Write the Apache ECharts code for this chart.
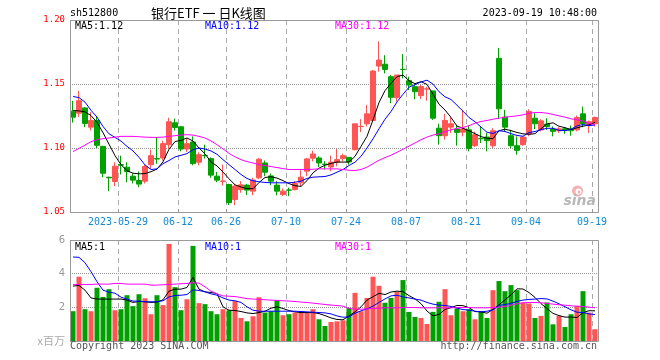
<!DOCTYPE html>
<html><head><meta charset="utf-8">
<script src="https://cdn.jsdelivr.net/npm/echarts@6/dist/echarts.min.js"></script>
<style>html,body{margin:0;padding:0;background:#fff}#c{width:660px;height:360px}</style>
</head><body><div id="c"></div>
<script>
const dates = ['2023-05-17','2023-05-18','2023-05-19','2023-05-22','2023-05-23','2023-05-24','2023-05-25','2023-05-26','2023-05-29','2023-05-30','2023-05-31',
'2023-06-01','2023-06-02','2023-06-05','2023-06-06','2023-06-07','2023-06-08','2023-06-09','2023-06-12','2023-06-13','2023-06-14','2023-06-15','2023-06-16','2023-06-19','2023-06-20','2023-06-21','2023-06-26','2023-06-27','2023-06-28','2023-06-29','2023-06-30',
'2023-07-03','2023-07-04','2023-07-05','2023-07-06','2023-07-07','2023-07-10','2023-07-11','2023-07-12','2023-07-13','2023-07-14','2023-07-17','2023-07-18','2023-07-19','2023-07-20','2023-07-21','2023-07-24','2023-07-25','2023-07-26','2023-07-27','2023-07-28','2023-07-31',
'2023-08-01','2023-08-02','2023-08-03','2023-08-04','2023-08-07','2023-08-08','2023-08-09','2023-08-10','2023-08-11','2023-08-14','2023-08-15','2023-08-16','2023-08-17','2023-08-18','2023-08-21','2023-08-22','2023-08-23','2023-08-24','2023-08-25','2023-08-28','2023-08-29','2023-08-30','2023-08-31',
'2023-09-01','2023-09-04','2023-09-05','2023-09-06','2023-09-07','2023-09-08','2023-09-11','2023-09-12','2023-09-13','2023-09-14','2023-09-15','2023-09-18','2023-09-19'];

const tickIdx = [8,18,26,36,46,56,66,76,87];
const tickLabels = ['2023-05-29','06-12','06-26','07-10','07-24','08-07','08-21','09-04','09-19'];
const priceTicks = ['1.20','1.15','1.10','1.05'];
const volTicks = ['6','4','2'];

const openP = [1.1288,1.1272,1.1313,1.1163,1.1215,1.1013,1.0772,1.0738,1.0870,1.0850,1.0780,
1.0746,1.0741,1.0870,1.0917,1.0922,1.1026,1.1197,1.1166,1.0992,1.1047,1.0889,1.0942,1.0917,1.0780,1.0739,1.0715,1.0598,1.0676,1.0710,1.0663,
1.0767,1.0883,1.0782,1.0710,1.0637,1.0672,1.0676,1.0728,1.0819,1.0920,1.0922,1.0874,1.0852,1.0889,1.0917,1.0927,1.0987,1.1167,1.1189,1.1215,1.1640,
1.1655,1.1557,1.1394,1.1615,1.1526,1.1479,1.1409,1.1460,1.1446,1.1155,1.1096,1.1163,1.1148,1.1124,1.1142,1.1018,1.1074,1.1086,1.1018,1.1700,1.1241,1.1096,1.1018,
1.1026,1.1109,1.1233,1.1142,1.1187,1.1148,1.1135,1.1150,1.1148,1.1142,1.1267,1.1181,1.1189];
const closeP = [1.1241,1.1370,1.1192,1.1215,1.1021,1.0803,1.0767,1.0858,1.0866,1.0816,1.0749,
1.0718,1.0855,1.0940,1.0914,1.1034,1.1205,1.1161,1.0992,1.1034,1.0878,1.0948,1.0940,1.0788,1.0749,1.0742,1.0573,1.0702,1.0712,1.0671,1.0749,
1.0912,1.0811,1.0741,1.0663,1.0663,1.0670,1.0723,1.0772,1.0915,1.0953,1.0883,1.0872,1.0889,1.0909,1.0940,1.0891,1.1189,1.1169,1.1267,1.1601,1.1687,
1.1614,1.1396,1.1570,1.1613,1.1492,1.1440,1.1480,1.1462,1.1233,1.1096,1.1215,1.1189,1.1122,1.1148,1.0997,1.1104,1.1072,1.1057,1.1135,1.1306,1.1163,1.1018,1.0982,
1.1086,1.1285,1.1189,1.1212,1.1168,1.1130,1.1150,1.1137,1.1135,1.1238,1.1189,1.1205,1.1238];
const lowP = [1.1199,1.1241,1.1163,1.1137,1.1000,1.0772,1.0663,1.0702,1.0793,1.0733,1.0723,
1.0694,1.0723,1.0837,1.0876,1.0902,1.0995,1.1137,1.0974,1.0969,1.0865,1.0865,1.0917,1.0767,1.0733,1.0707,1.0554,1.0554,1.0650,1.0632,1.0632,
1.0756,1.0780,1.0710,1.0630,1.0624,1.0624,1.0668,1.0702,1.0780,1.0896,1.0852,1.0832,1.0819,1.0857,1.0896,1.0870,1.0982,1.1124,1.1168,1.1207,1.1596,
1.1583,1.1350,1.1363,1.1544,1.1453,1.1381,1.1383,1.1370,1.1220,1.1026,1.1065,1.1117,1.1018,1.1091,1.0974,1.1008,1.1039,1.0974,1.1000,1.1225,1.1130,1.1000,1.0948,
1.1018,1.1091,1.1148,1.1130,1.1142,1.1091,1.1117,1.1111,1.1096,1.1130,1.1163,1.1117,1.1168];
const highP = [1.1368,1.1446,1.1318,1.1280,1.1251,1.1013,1.0775,1.0889,1.0940,1.0889,1.0800,
1.0816,1.0870,1.0987,1.1083,1.1057,1.1236,1.1230,1.1170,1.1075,1.1090,1.0966,1.1026,1.0927,1.0813,1.0870,1.0720,1.0720,1.0741,1.0720,1.0767,
1.0922,1.0902,1.0800,1.0741,1.0684,1.0690,1.0741,1.0826,1.0922,1.0979,1.0935,1.0896,1.0940,1.0992,1.0956,1.0927,1.1189,1.1225,1.1337,1.1609,1.1834,
1.1725,1.1570,1.1570,1.1733,1.1557,1.1505,1.1492,1.1479,1.1446,1.1189,1.1267,1.1241,1.1181,1.1298,1.1174,1.1127,1.1168,1.1117,1.1155,1.1782,1.1298,1.1142,1.1091,
1.1091,1.1303,1.1272,1.1225,1.1233,1.1168,1.1163,1.1163,1.1176,1.1254,1.1324,1.1215,1.1246];

const ma5 = [1.1293,1.1290,1.1282,1.1254,1.1200,1.1120,1.1030,1.0940,1.0870,1.0822,1.0803,
1.0798,1.0800,1.0815,1.0835,1.0892,1.0990,1.1050,1.1060,1.1078,1.1055,1.1000,1.0955,1.0890,1.0860,1.0812,1.0760,1.0712,1.0696,1.0682,1.0682,
1.0730,1.0770,1.0775,1.0765,1.0745,1.0722,1.0705,1.0700,1.0745,1.0806,1.0843,1.0865,1.0880,1.0890,1.0890,1.0890,1.0935,1.1013,1.1091,1.1220,1.1355,
1.1448,1.1505,1.1557,1.1570,1.1526,1.1503,1.1518,1.1497,1.1421,1.1342,1.1297,1.1239,1.1171,1.1154,1.1134,1.1112,1.1089,1.1076,1.1073,1.1135,1.1147,1.1136,1.1121,
1.1111,1.1107,1.1112,1.1151,1.1188,1.1197,1.1170,1.1159,1.1144,1.1158,1.1170,1.1181,1.1201];
const ma10 = [1.1402,1.1394,1.1358,1.1295,1.1241,1.1168,1.1111,1.1083,1.1054,1.1013,1.0977,
1.0927,1.0868,1.0832,1.0837,1.0878,1.0902,1.0930,1.0943,1.0956,1.0987,1.1000,1.0992,1.0977,1.0951,1.0909,1.0870,1.0832,1.0793,1.0762,1.0744,
1.0736,1.0731,1.0728,1.0728,1.0728,1.0728,1.0733,1.0741,1.0762,1.0772,1.0775,1.0777,1.0790,1.0811,1.0832,1.0863,1.0889,1.0935,1.1000,1.1072,1.1150,
1.1225,1.1285,1.1360,1.1420,1.1475,1.1495,1.1516,1.1530,1.1499,1.1440,1.1400,1.1379,1.1334,1.1288,1.1238,1.1205,1.1164,1.1123,1.1114,1.1135,1.1129,1.1112,1.1098,
1.1092,1.1121,1.1129,1.1143,1.1154,1.1154,1.1138,1.1136,1.1147,1.1173,1.1183,1.1175,1.1180];
const ma30 = [1.0972,1.0997,1.1023,1.1049,1.1065,1.1073,1.1078,1.1085,1.1091,1.1091,1.1091,
1.1088,1.1085,1.1083,1.1083,1.1085,1.1091,1.1096,1.1101,1.1104,1.1101,1.1091,1.1078,1.1055,1.1026,1.0993,1.0958,1.0931,1.0909,1.0894,1.0883,
1.0870,1.0863,1.0855,1.0847,1.0839,1.0832,1.0832,1.0832,1.0832,1.0834,1.0837,1.0837,1.0837,1.0837,1.0832,1.0826,1.0824,1.0832,1.0850,1.0878,1.0904,
1.0925,1.0943,1.0966,1.0990,1.1015,1.1039,1.1065,1.1085,1.1101,1.1111,1.1127,1.1142,1.1153,1.1161,1.1174,1.1194,1.1207,1.1215,1.1225,1.1233,1.1241,1.1246,1.1251,
1.1259,1.1272,1.1277,1.1277,1.1272,1.1262,1.1251,1.1241,1.1228,1.1220,1.1210,1.1194,1.1179];

const volume = [1.77,3.82,1.89,1.77,3.16,2.62,3.08,1.83,1.89,2.72,2.07,
2.78,2.54,1.59,2.72,2.13,5.77,3.20,1.83,2.48,5.65,2.25,2.19,1.77,1.59,1.89,1.83,2.37,1.37,1.17,1.47,
2.60,1.69,1.77,2.43,1.53,1.59,1.69,1.77,1.69,1.89,1.29,0.89,1.13,1.17,1.23,1.97,2.86,1.77,2.56,3.82,3.28,
2.27,2.56,2.92,3.62,1.73,1.43,1.37,1.01,1.73,2.33,3.08,1.53,1.93,1.77,1.89,1.29,1.77,1.37,3.02,3.56,2.96,3.32,3.02,
2.29,2.23,1.37,1.49,2.29,0.99,1.49,0.83,1.59,2.07,2.96,1.69,0.70];
const volMa5 = [3.26,3.30,3.02,2.56,2.49,2.49,2.49,2.49,2.49,2.43,2.29,
2.35,2.33,2.29,2.31,2.45,2.96,3.08,3.08,3.18,3.78,3.08,2.92,2.88,2.82,2.03,1.83,1.81,1.75,1.67,1.63,
1.69,1.77,1.95,2.03,1.93,1.81,1.73,1.69,1.69,1.69,1.63,1.51,1.37,1.28,1.26,1.49,1.73,2.03,2.43,2.63,2.83,
2.76,2.91,2.96,2.93,2.70,2.50,2.22,1.78,1.49,1.58,1.87,1.98,2.11,2.10,1.98,1.75,1.73,1.65,1.88,2.15,2.44,2.74,3.10,
3.09,2.88,2.59,2.22,1.93,1.64,1.51,1.42,1.42,1.40,1.68,1.80,1.79];
const volMa10 = [4.99,4.97,4.65,4.12,3.52,3.02,2.90,2.84,2.60,2.49,2.37,
2.37,2.33,2.33,2.33,2.39,2.62,2.70,2.72,2.76,3.04,3.00,2.92,2.80,2.72,2.56,2.43,2.39,2.29,2.03,1.83,
1.77,1.77,1.77,1.77,1.77,1.77,1.77,1.75,1.73,1.71,1.69,1.67,1.61,1.49,1.41,1.43,1.65,1.79,1.91,2.07,2.29,
2.50,2.68,2.72,2.62,2.56,2.49,2.43,2.29,2.19,2.13,2.11,2.05,1.95,1.87,1.83,1.77,1.73,1.77,1.85,2.11,2.17,2.23,2.35,
2.43,2.47,2.49,2.52,2.50,2.37,2.21,2.03,1.85,1.71,1.69,1.61,1.57];
const volMa30 = [3.36,3.36,3.36,3.36,3.38,3.38,3.38,3.42,3.42,3.38,3.38,
3.38,3.38,3.32,3.32,3.34,3.36,3.38,3.40,3.42,3.46,3.44,3.22,2.96,2.80,2.68,2.66,2.64,2.58,2.52,2.49,
2.47,2.45,2.43,2.41,2.39,2.37,2.35,2.31,2.29,2.25,2.21,2.17,2.13,2.11,2.07,1.93,1.89,1.89,1.91,1.93,1.95,
1.97,1.97,1.97,1.99,1.99,1.99,1.97,1.97,1.97,1.97,1.97,1.97,1.99,1.99,1.99,1.97,1.97,1.97,1.99,2.01,2.05,2.13,2.21,
2.27,2.29,2.29,2.27,2.23,2.19,2.15,2.13,2.09,2.07,2.05,2.01,1.97];

const RED = '#ff5555', GREEN = '#00a000';
const MONO = '"DejaVu Sans Mono", monospace';
const isTick = (i) => tickIdx.indexOf(i) >= 0;

const candleData = dates.map((d, i) => [openP[i], closeP[i], lowP[i], highP[i]]);
const volData = volume.map((v, i) => ({ value: v, itemStyle: { color: closeP[i] >= openP[i] ? RED : GREEN } }));

const hDot = () => ({ show: true, lineStyle: { color: '#999', type: 'dotted', width: 1 } });

// vertical dashed separators at the left edge of each labelled day's band
const vLines = (xi, yi, withTick) => ({
  type: 'custom', xAxisIndex: xi, yAxisIndex: yi, silent: true, z: 1,
  data: tickIdx.map(i => [i]),
  renderItem: (params, api) => {
    const p = api.coord([api.value(0), 0]);
    const bw = api.size([1, 0])[0];
    const x = Math.round(p[0] - bw / 2) + 0.5;
    const cs = params.coordSys;
    const kids = [{ type: 'line', shape: { x1: x, y1: cs.y, x2: x, y2: cs.y + cs.height },
      style: { stroke: '#aaa', lineWidth: 1, lineDash: [5, 4] } }];
    if (withTick) kids.push({ type: 'line', shape: { x1: x, y1: cs.y + cs.height - 3, x2: x, y2: cs.y + cs.height },
      style: { stroke: '#999', lineWidth: 1 } });
    return { type: 'group', children: kids };
  }
});

const chart = echarts.init(document.getElementById('c'), null, { renderer: 'canvas' });
const txt = (x, y, text, color, size, align, font, pre) => ({
  type: 'text', x: x, y: y, silent: true, z: 100,
  style: { text: text, fill: color, font: (pre || '') + (size || 10) + 'px ' + (font || MONO), textAlign: align || 'left', textVerticalAlign: 'middle' }
});
const frame = (x, y, w, h) => ({ type: 'rect', silent: true, z: 50, shape: { x: x + 0.5, y: y + 0.5, width: w, height: h }, style: { fill: null, stroke: '#999', lineWidth: 1 } });

chart.setOption({
  animation: false,
  backgroundColor: '#fff',
  grid: [
    { left: 70, right: 62, top: 20, height: 192, show: false },
    { left: 70, right: 62, top: 240, height: 101, show: false }
  ],
  xAxis: [
    { type: 'category', gridIndex: 0, data: dates, boundaryGap: true,
      axisLine: { show: false }, axisTick: { show: false }, splitLine: { show: false },
      axisLabel: { show: true, interval: (i) => isTick(i), formatter: (v, i) => tickLabels[tickIdx.indexOf(i)] || '',
        color: '#1589d6', fontFamily: MONO, fontSize: 10, margin: 5, padding: [0, 6, 0, 0] } },
    { type: 'category', gridIndex: 1, data: dates, boundaryGap: true,
      axisLine: { show: false }, axisTick: { show: false }, axisLabel: { show: false }, splitLine: { show: false } }
  ],
  yAxis: [
    { type: 'value', gridIndex: 0, min: 1.05, max: 1.20, interval: 0.05, position: 'left',
      axisLine: { show: false }, axisTick: { show: false }, splitLine: hDot(),
      axisLabel: { color: '#ff0000', fontFamily: MONO, fontSize: 9, margin: 5,
        formatter: (v) => priceTicks.find(t => Math.abs(parseFloat(t) - v) < 1e-6) || '' } },
    { type: 'value', gridIndex: 1, min: 0, max: 6, interval: 2, position: 'left',
      axisLine: { show: false }, axisTick: { show: false }, splitLine: hDot(),
      axisLabel: { color: '#999', fontFamily: '"DejaVu Sans", sans-serif', fontSize: 10, margin: 5,
        formatter: (v) => volTicks.find(t => parseFloat(t) === v) || '' } }
  ],
  series: [
    vLines(0, 0, true),
    vLines(1, 1, false),
    { type: 'candlestick', xAxisIndex: 0, yAxisIndex: 0, data: candleData, barWidth: 5, z: 3,
      itemStyle: { color: RED, color0: GREEN, borderColor: RED, borderColor0: GREEN, borderWidth: 1 } },
    { type: 'line', xAxisIndex: 0, yAxisIndex: 0, data: ma5, symbol: 'none', z: 4, lineStyle: { color: '#000', width: 1 } },
    { type: 'line', xAxisIndex: 0, yAxisIndex: 0, data: ma10, symbol: 'none', z: 4, lineStyle: { color: '#0000ff', width: 1 } },
    { type: 'line', xAxisIndex: 0, yAxisIndex: 0, data: ma30, symbol: 'none', z: 4, lineStyle: { color: '#ff00ff', width: 1 } },
    { type: 'bar', xAxisIndex: 1, yAxisIndex: 1, data: volData, barWidth: 5, z: 3 },
    { type: 'line', xAxisIndex: 1, yAxisIndex: 1, data: volMa5, symbol: 'none', z: 4, lineStyle: { color: '#000', width: 1 } },
    { type: 'line', xAxisIndex: 1, yAxisIndex: 1, data: volMa10, symbol: 'none', z: 4, lineStyle: { color: '#0000ff', width: 1 } },
    { type: 'line', xAxisIndex: 1, yAxisIndex: 1, data: volMa30, symbol: 'none', z: 4, lineStyle: { color: '#ff00ff', width: 1 } }
  ],
  graphic: [
    frame(70, 20, 528, 192),
    frame(70, 240, 528, 101),
    txt(70, 13, 'sh512800', '#000', 10),
    txt(151, 13, '银行ETF 一 日K线图', '#000', 13, 'left', '"Noto Sans CJK SC", sans-serif'),
    txt(597, 13, '2023-09-19 10:48:00', '#000', 10, 'right'),
    txt(75, 26, 'MA5:1.12', '#000', 10),
    txt(205, 26, 'MA10:1.12', '#0000ff', 10),
    txt(335, 26, 'MA30:1.12', '#ff00ff', 10),
    txt(75, 247, 'MA5:1', '#000', 10),
    txt(205, 247, 'MA10:1', '#0000ff', 10),
    txt(335, 247, 'MA30:1', '#ff00ff', 10),
    txt(70, 346, 'Copyright 2023 SINA.COM', '#555', 10),
    txt(597, 346, 'http://finance.sina.com.cn', '#555', 10, 'right'),
    txt(65, 341, 'x百万', '#aaa', 11, 'right', '"Noto Sans CJK SC", sans-serif'),
    { type: 'circle', x: 577.5, y: 191, silent: true, shape: { r: 5.5 }, style: { fill: '#f6b0b0' } },
    { type: 'circle', x: 578.5, y: 191.5, silent: true, shape: { r: 3 }, style: { fill: '#fff' } },
    { type: 'circle', x: 579, y: 192, silent: true, shape: { r: 1.5 }, style: { fill: '#f6b0b0' } },
    txt(596, 201, 'sina', '#b8b8b8', 14, 'right', '"DejaVu Sans", sans-serif', 'italic bold ')
  ]
});
</script>
</body></html>
